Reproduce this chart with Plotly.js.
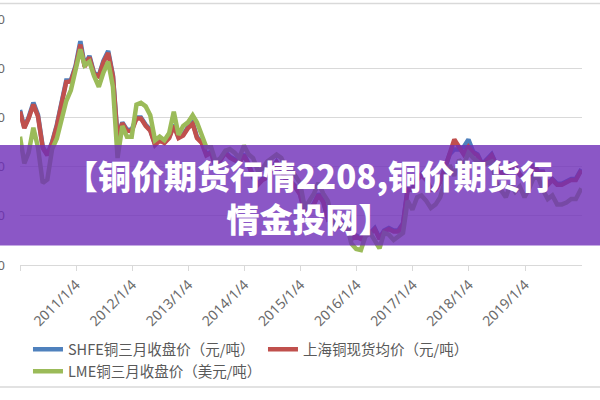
<!DOCTYPE html>
<html><head><meta charset="utf-8">
<script src="https://cdn.plot.ly/plotly-3.0.1.min.js"></script>
<style>html,body{margin:0;padding:0;background:#fff;}#chart{width:600px;height:400px;}</style>
</head><body><div id="chart"></div>
<script>
// Monthly readings, Jan 2010 .. Dec 2019, plus one closing point in Jan 2020
const months = [];
for (let y = 2010; y <= 2019; y++) for (let m = 1; m <= 12; m++) months.push(y + '-' + String(m).padStart(2,'0') + '-01');
months[0] = '2010-01-04';
months.push('2020-01-06');

const shfe = [
 61500,58000,60000,63000,60500,54000,52500,55000,58500,62500,67500,67500,
 70500,75500,70500,72500,69000,68500,71500,73500,68500,56000,59000,57500,
 57500,60000,60000,58500,57500,54500,55500,55000,56000,58500,56000,56500,
 58000,59000,56000,55000,52500,53000,50000,51500,53000,52000,51500,51000,
 52500,50500,48000,46500,47500,48000,49500,51000,49500,47500,47000,46000,
 44500,40500,41500,42500,44500,43000,39500,40000,38000,38500,38500,35500,
 36000,35500,36500,36500,37500,35500,37000,37500,37000,37000,38500,45500,
 45500,47500,48500,47500,45500,45500,47000,50000,52500,53500,53500,54000,
 55500,53000,52500,50500,51500,52500,50500,49000,48500,50500,50000,48500,
 47500,47500,50500,49000,49000,46500,47500,46500,46500,47000,47500,47500,
 49500];
const spot = [
 61200,57800,59800,62600,60200,53800,52300,54800,58300,62300,67200,67300,
 70200,74800,70300,72200,68800,68300,71200,73100,68300,55800,58800,57300,
 57200,59800,59800,58300,57300,54400,55300,54800,55800,58300,55800,56300,
 57800,58700,55800,54800,52300,52800,49800,51300,52800,51800,51300,50800,
 52300,50300,47800,46300,47300,47800,49300,50800,49300,47300,46800,45800,
 44300,40300,41300,42300,44300,42800,39300,39800,37800,38300,38300,35300,
 35800,35300,36300,36300,37300,35300,36800,37300,36800,36800,38300,45300,
 45300,47300,48300,47300,45300,45300,46800,49800,52300,55500,54000,52500,
 54000,52800,52300,50300,51300,52300,50300,48800,48300,50300,49800,48300,
 47300,47300,50300,48800,48800,46300,47300,46300,46300,46800,47300,47300,
 49300];
const lme = [
 7600,6850,7150,7850,7300,6300,6400,7250,7550,8100,8600,8900,
 9500,10050,9600,9700,9300,9000,9400,9700,9000,7000,7900,7600,
 7600,8500,8550,8450,8200,7500,7600,7500,7700,8300,7650,7900,
 8000,8200,8000,7600,7300,7300,6900,7000,7200,7250,7150,7000,
 7350,7100,7000,6650,6700,6900,7000,7100,7000,6700,6700,6500,
 6300,5600,5800,6000,6300,6000,5800,5200,5100,5100,5100,4600,
 4450,4420,4800,4900,4700,4470,4900,4850,4700,4800,4900,5800,
 5550,5900,5950,5800,5600,5700,5900,6350,6800,6500,6950,6800,
 7150,7000,6900,6800,6850,6900,6300,6100,5900,6250,6050,6200,
 5900,6150,6450,6450,6100,5850,5950,5700,5700,5750,5850,5850,
 6150];

const names = ['SHFE铜三月收盘价（元/吨）','上海铜现货均价（元/吨）','LME铜三月收盘价（美元/吨）'];
const tickDates = ['2010-01-04','2011-01-04','2012-01-04','2013-01-04','2014-01-04','2015-01-04','2016-01-04','2017-01-04','2018-01-04','2019-01-04'];
const tickLabels = ['2010/1/4','2011/1/4','2012/1/4','2013/1/4','2014/1/4','2015/1/4','2016/1/4','2017/1/4','2018/1/4','2019/1/4'];
const bannerLines = ['【铜价期货行情2208,铜价期货行','情金投网】'];

const traces = [
 {x: months, y: shfe, name: names[0], type:'scatter', mode:'lines', line:{color:'#4F81BD', width:4.5}},
 {x: months, y: spot, name: names[1], type:'scatter', mode:'lines', line:{color:'#C0504D', width:4.5}},
 {x: months, y: lme, name: names[2], type:'scatter', mode:'lines', yaxis:'y2', line:{color:'#9BBB59', width:4.5}}
];

const bannerFont = {family:'Noto Sans CJK SC', size:33, color:'#ffffff', weight:900};

const layout = {
 width:600, height:400,
 margin:{l:20, r:18, t:19, b:129},
 paper_bgcolor:'#fff', plot_bgcolor:'#fff',
 font:{family:'Noto Sans, Noto Sans CJK SC, sans-serif', color:'#666'},
 showlegend:true,
 xaxis:{type:'date', range:['2010-01-04','2020-01-10'], tickvals:tickDates, ticktext:tickLabels,
   tickangle:-45, tickfont:{size:14, color:'#6a6a6a'}, showgrid:false, showline:true, linecolor:'#d9d9d9',
   ticks:'outside', ticklen:5, tickcolor:'#d9d9d9', zeroline:false},
 yaxis:{range:[30000,80000], dtick:10000, showgrid:true, gridcolor:'#d9d9d9', zeroline:false, showline:false,
   tickformat:'d', ticklabelstandoff:14, tickfont:{size:13, color:'#6a6a6a'}},
 yaxis2:{range:[4000,10900], overlaying:'y', side:'right', visible:false, showgrid:false},
 legend:{orientation:'h', x:0.0142, xanchor:'left', y:-0.278, yanchor:'top', entrywidth:190, entrywidthmode:'pixels',
   font:{family:'Noto Sans CJK SC, sans-serif', size:14.5, color:'#595959'}, bgcolor:'rgba(0,0,0,0)'},
 shapes:[
  {type:'line', xref:'paper', yref:'paper', x0:-0.1, x1:1.1, y0:1.0635, y1:1.0635, line:{color:'#d9d9d9', width:1.5}},
  {type:'line', xref:'paper', yref:'paper', x0:-0.1, x1:1.1, y0:-0.496, y1:-0.496, line:{color:'#d9d9d9', width:1.5}},
  {type:'rect', xref:'paper', yref:'paper', x0:-0.1, x1:1.1, y0:0.0794, y1:0.488, line:{width:0}, fillcolor:'rgba(110,45,184,0.8)', layer:'above'}
 ],
 annotations:[
  {xref:'paper', yref:'paper', x:0.514, y:0.278, text:bannerLines.join('<br>'), align:'center', showarrow:false,
   xanchor:'center', yanchor:'middle', font:bannerFont}
 ]
};
Plotly.newPlot('chart', traces, layout, {displayModeBar:false, staticPlot:true});
</script></body></html>
